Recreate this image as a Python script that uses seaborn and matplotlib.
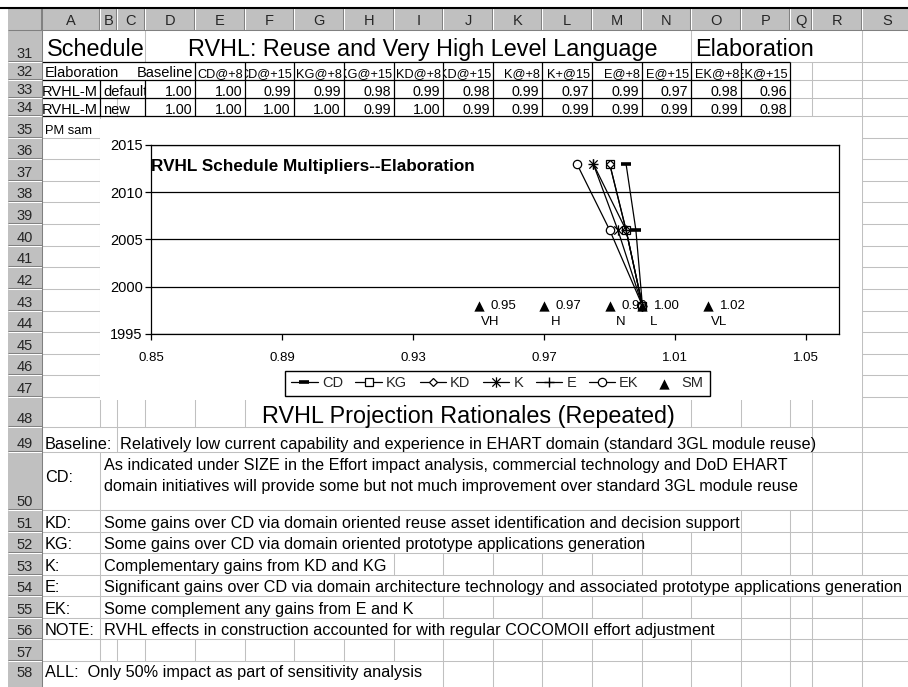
import numpy as np
import pandas as pd
import matplotlib
matplotlib.use("Agg")
import matplotlib.pyplot as plt
from matplotlib.patches import Rectangle
from matplotlib.path import Path
import seaborn as sns

sns.set_theme(style="white")
plt.rcParams["font.family"] = ["Liberation Sans", "DejaVu Sans"]

# ---------------- worksheet content ----------------
col_letters = ["A", "B", "C", "D", "E", "F", "G", "H", "I", "J", "K", "L",
               "M", "N", "O", "P", "Q", "R", "S"]
first_row, last_row = 31, 58

table_headers = ["Baseline", "CD@+8", "CD@+15", "KG@+8", "KG@+15", "KD@+8", "KD@+15",
                 "K@+8", "K+@15", "E@+8", "E@+15", "EK@+8", "EK@+15"]
default_mult = [1.00, 1.00, 0.99, 0.99, 0.98, 0.99, 0.98, 0.99, 0.97, 0.99, 0.97, 0.98, 0.96]
new_mult = [1.00, 1.00, 1.00, 1.00, 0.99, 1.00, 0.99, 0.99, 0.99, 0.99, 0.99, 0.99, 0.98]

# ---------------- chart series (multiplier by year) ----------------
years = [1998, 2006, 2013]
series_names = ["CD", "KG", "KD", "K", "E", "EK"]
cd_mult = [1.00, 0.998, 0.995]
kg_mult = [1.00, 0.995, 0.990]
kd_mult = [1.00, 0.995, 0.990]
k_mult = [1.00, 0.9925, 0.985]
e_mult = [1.00, 0.995, 0.985]
ek_mult = [1.00, 0.990, 0.980]

sm_values = [0.95, 0.97, 0.99, 1.00, 1.02]
sm_ratings = ["VH", "H", "N", "L", "VL"]
sm_year = 1998

x_ticks = [0.85, 0.89, 0.93, 0.97, 1.01, 1.05]
y_ticks = [1995, 2000, 2005, 2010, 2015]

rationale_keys = ["Baseline:", "CD:", "KD:", "KG:", "K:", "E:", "EK:", "NOTE:"]
rationale_text = [
    "Relatively low current capability and experience in EHART domain (standard 3GL module reuse)",
    "As indicated under SIZE in the Effort impact analysis, commercial technology and DoD EHART\n"
    "domain initiatives will provide some but not much improvement over standard 3GL module reuse",
    "Some gains over CD via domain oriented reuse asset identification and decision support",
    "Some gains over CD via domain oriented prototype applications generation",
    "Complementary gains from KD and KG",
    "Significant gains over CD via domain architecture technology and associated prototype applications generation",
    "Some complement any gains from E and K",
    "RVHL effects in construction accounted for with regular COCOMOII effort adjustment",
]
footer_note = "ALL:  Only 50% impact as part of sensitivity analysis"

# ---------------- sheet geometry (pixels) ----------------
W, H = 908, 687
fig = plt.figure(figsize=(W / 100, H / 100), dpi=100)
bg = fig.add_axes([0, 0, 1, 1])
bg.set_xlim(0, W)
bg.set_ylim(H, 0)
bg.axis("off")

GRID = "#c0c0c0"
HEAD = "#c0c0c0"
SHADE = "#808080"
BODY = 11.7
BIG = 16.8

col_edges = [42, 100, 117, 145, 195, 245, 294, 344, 394, 443, 493, 542, 592,
             642, 691, 741, 790, 812, 862, 912]
row_edges = [30, 62, 80, 98, 116]
row_edges += list(np.linspace(116, 397, 14)[1:])
row_edges += [427, 452, 510]
row_edges += list(np.linspace(510, 661, 8)[1:])
row_edges += [692]


def top(r):
    return row_edges[r - first_row]


def bot(r):
    return row_edges[r - first_row + 1]


def base(r):
    return min(bot(r), 681) - 4


def seg(x0, y0, x1, y1, color=GRID, lw=0.75, z=1):
    bg.plot([x0, x1], [y0, y1], color=color, lw=lw, solid_capstyle="butt", zorder=z)


def cell_text(x, y, s, size=BODY, ha="left", clip=None, z=4, **kw):
    t = bg.text(x, y, s, fontsize=size, ha=ha, va="baseline", color="black", zorder=z, **kw)
    if clip is not None:
        x0, y0, x1, y1 = clip
        t.set_clip_path(Rectangle((x0, y0), x1 - x0, y1 - y0, transform=bg.transData))
        t.set_clip_on(True)
    return t


# horizontal gridlines
for yy in row_edges[1:-1]:
    seg(42, yy, W, yy)

# vertical gridlines, row by row (overflowing text hides them)
inner = col_edges[1:-1]
visible = {
    31: [145, 691, 862],
    32: [812, 862],
    33: [812, 862],
    34: [117, 812, 862],
    48: [100, 117, 145, 195, 245, 691, 741, 790, 812, 862],
    49: [117, 812, 862],
    50: [100, 812, 862],
    51: [100, 741, 790, 812, 862],
    52: [100, 642, 691, 741, 790, 812, 862],
    53: [100] + [x for x in inner if x >= 394],
    54: [100],
    55: [100] + [x for x in inner if x >= 443],
    56: [100, 741, 790, 812, 862],
    57: inner,
    58: [x for x in inner if x >= 443],
}
for r in range(35, 48):
    visible[r] = [100, 862]
for r, xs in visible.items():
    for x in xs:
        seg(x, top(r), x, bot(r))

# table borders (rows 32-34)
for yy in [62, 80, 98, 116]:
    seg(42, yy, 790, yy, color="black", lw=0.9, z=2)
for x in col_edges[4:17]:
    seg(x, 62, x, 116, color="black", lw=0.9, z=2)
for x in [100, 145]:
    seg(x, 80, x, 116, color="black", lw=0.9, z=2)

# column and row headers
bg.add_patch(Rectangle((8, 8), W - 8, 22, facecolor=HEAD, edgecolor="none", zorder=5))
bg.add_patch(Rectangle((8, 30), 34, H - 30, facecolor=HEAD, edgecolor="none", zorder=5))
for x in col_edges[:-1]:
    seg(x - 1, 8, x - 1, 30, color=SHADE, z=6)
    seg(x, 8, x, 30, color="white", z=6)
for i, letter in enumerate(col_letters):
    cx = (col_edges[i] + col_edges[i + 1]) / 2
    bg.text(cx, 25, letter, fontsize=10.5, ha="center", va="baseline", zorder=7)
seg(8, 29.5, W, 29.5, color=SHADE, z=6)
for r in range(first_row, last_row + 1):
    seg(8, bot(r) - 1, 42, bot(r) - 1, color=SHADE, z=6)
    seg(8, bot(r), 42, bot(r), color="white", z=6)
    bg.text(25, base(r), str(r), fontsize=10.5, ha="center", va="baseline", zorder=7)
seg(41.5, 8, 41.5, H, color=SHADE, z=6)
seg(0, 8, W, 8, color="black", lw=1.5, z=8)

# row 31 titles
cell_text(47, 56, "Schedule", size=BIG)
cell_text(188, 56, "RVHL: Reuse and Very High Level Language", size=BIG)
cell_text(695, 56, "Elaboration", size=BIG)

# rows 32-34: multiplier table
cell_text(45, 77, "Elaboration", size=10.5)
cell_text(193, 77, table_headers[0], size=10.5, ha="right")
for i, head in enumerate(table_headers[1:], start=1):
    x0, x1 = col_edges[3 + i], col_edges[4 + i]
    cell_text(x1 - 2, 77, head, size=9.2, ha="right", clip=(x0 + 1, 62, x1, 80))
for yb, label, vals in [(96, "default", default_mult), (114, "new", new_mult)]:
    cell_text(98, yb, "RVHL-M", size=10.5, ha="right", clip=(42, yb - 16, 100, yb + 2))
    cell_text(103, yb, label, size=10.5, clip=(100, yb - 16, 145, yb + 2))
    for i, v in enumerate(vals):
        cell_text(col_edges[4 + i] - 3, yb, f"{v:.2f}", size=10.3, ha="right")

cell_text(45, 134, "PM sam", size=9.3, z=2)

# white chart area sitting on the sheet
bg.add_patch(Rectangle((99.5, 119), 762, 281, facecolor="white", edgecolor="none", zorder=3))
cell_text(151, 170.5, "RVHL Schedule Multipliers--Elaboration", size=12.3,
          z=5, fontweight="bold")

# rows 48-58: rationale notes
cell_text(468, 423, "RVHL Projection Rationales (Repeated)", size=BIG, ha="center")
cell_text(45, 449, rationale_keys[0], size=BODY)
cell_text(120, 449, rationale_text[0], size=BODY)
cell_text(45, 482, rationale_keys[1], size=BODY)
l1, l2 = rationale_text[1].split("\n")
cell_text(104, 470, l1, size=BODY)
cell_text(104, 491, l2, size=BODY)
for r, key, txt in zip(range(51, 57), rationale_keys[2:], rationale_text[2:]):
    cell_text(45, base(r), key, size=BODY)
    cell_text(104, base(r), txt, size=BODY)
cell_text(45, base(58), footer_note, size=BODY)

# ---------------- embedded chart ----------------
px_l, px_r, px_t, px_b = 151, 839, 145, 334
ax = fig.add_axes([px_l / W, 1 - px_b / H, (px_r - px_l) / W, (px_b - px_t) / H])
ax.set_facecolor("none")

df = pd.DataFrame({
    "series": np.repeat(series_names, len(years)),
    "year": years * len(series_names),
    "multiplier": np.concatenate([cd_mult, kg_mult, kd_mult, k_mult, e_mult, ek_mult]),
})

asterisk = Path([(-1, -1), (1, 1), (-1, 1), (1, -1), (0, -1.25), (0, 1.25)],
                [Path.MOVETO, Path.LINETO] * 3)
open_marker = dict(markerfacecolor="white", markeredgecolor="black", markeredgewidth=0.9)
marker_style = {
    "CD": dict(marker="_", markersize=7, markeredgewidth=2.6, markeredgecolor="black"),
    "KG": dict(marker="s", markersize=6, **open_marker),
    "KD": dict(marker="D", markersize=4.3, **open_marker),
    "K": dict(marker=asterisk, markersize=7.5, **open_marker),
    "E": dict(marker="+", markersize=7, markeredgewidth=1.0, markeredgecolor="black"),
    "EK": dict(marker="o", markersize=6, **open_marker),
}

handles = []
for name in series_names:
    sub = df[df["series"] == name]
    sns.lineplot(data=sub, x="multiplier", y="year", sort=False, estimator=None,
                 color="black", linewidth=0.9, legend=False, ax=ax, **marker_style[name])
    handles.append(ax.lines[-1])

sns.scatterplot(x=sm_values, y=[sm_year] * len(sm_values), marker="^", s=55,
                color="black", edgecolor="black", linewidth=0, legend=False, ax=ax, zorder=6)
handles.append(ax.collections[-1])

for v, rating in zip(sm_values, sm_ratings):
    ax.annotate(f"{v:.2f}", (v, sm_year), xytext=(8.5, 0), textcoords="offset points",
                ha="left", va="center", fontsize=9.5, color="black")
    ax.annotate(rating, (v, sm_year), xytext=(8, -11.5), textcoords="offset points",
                ha="center", va="center", fontsize=9.5, color="black")

ax.set_xlim(0.85, 1.06)
ax.set_ylim(1995, 2015)
ax.set_xticks(x_ticks)
ax.set_xticklabels([f"{t:.2f}" for t in x_ticks])
ax.set_yticks(y_ticks)
ax.set_xlabel("")
ax.set_ylabel("")
for sp in ax.spines.values():
    sp.set_visible(True)
    sp.set_color("black")
    sp.set_linewidth(0.9)
ax.yaxis.grid(True, color="black", linewidth=0.9)
ax.xaxis.grid(False)
ax.tick_params(axis="both", bottom=True, left=True, direction="out", length=4,
               width=0.9, color="black", labelsize=9.5, labelcolor="black")
ax.tick_params(axis="y", pad=2, labelsize=10.5)
ax.tick_params(axis="x", pad=9)

leg = ax.legend(handles, series_names + ["SM"], loc="center",
                bbox_to_anchor=(497.5 / W, 1 - 383.5 / H), bbox_transform=fig.transFigure,
                ncol=7, frameon=True, fancybox=False, edgecolor="black", framealpha=1,
                fontsize=10.5, handlelength=1.8, handletextpad=0.3, columnspacing=0.85,
                borderpad=0.4, borderaxespad=0, scatterpoints=1)
leg.get_frame().set_linewidth(1.0)

fig.savefig("out.png", dpi=100)
